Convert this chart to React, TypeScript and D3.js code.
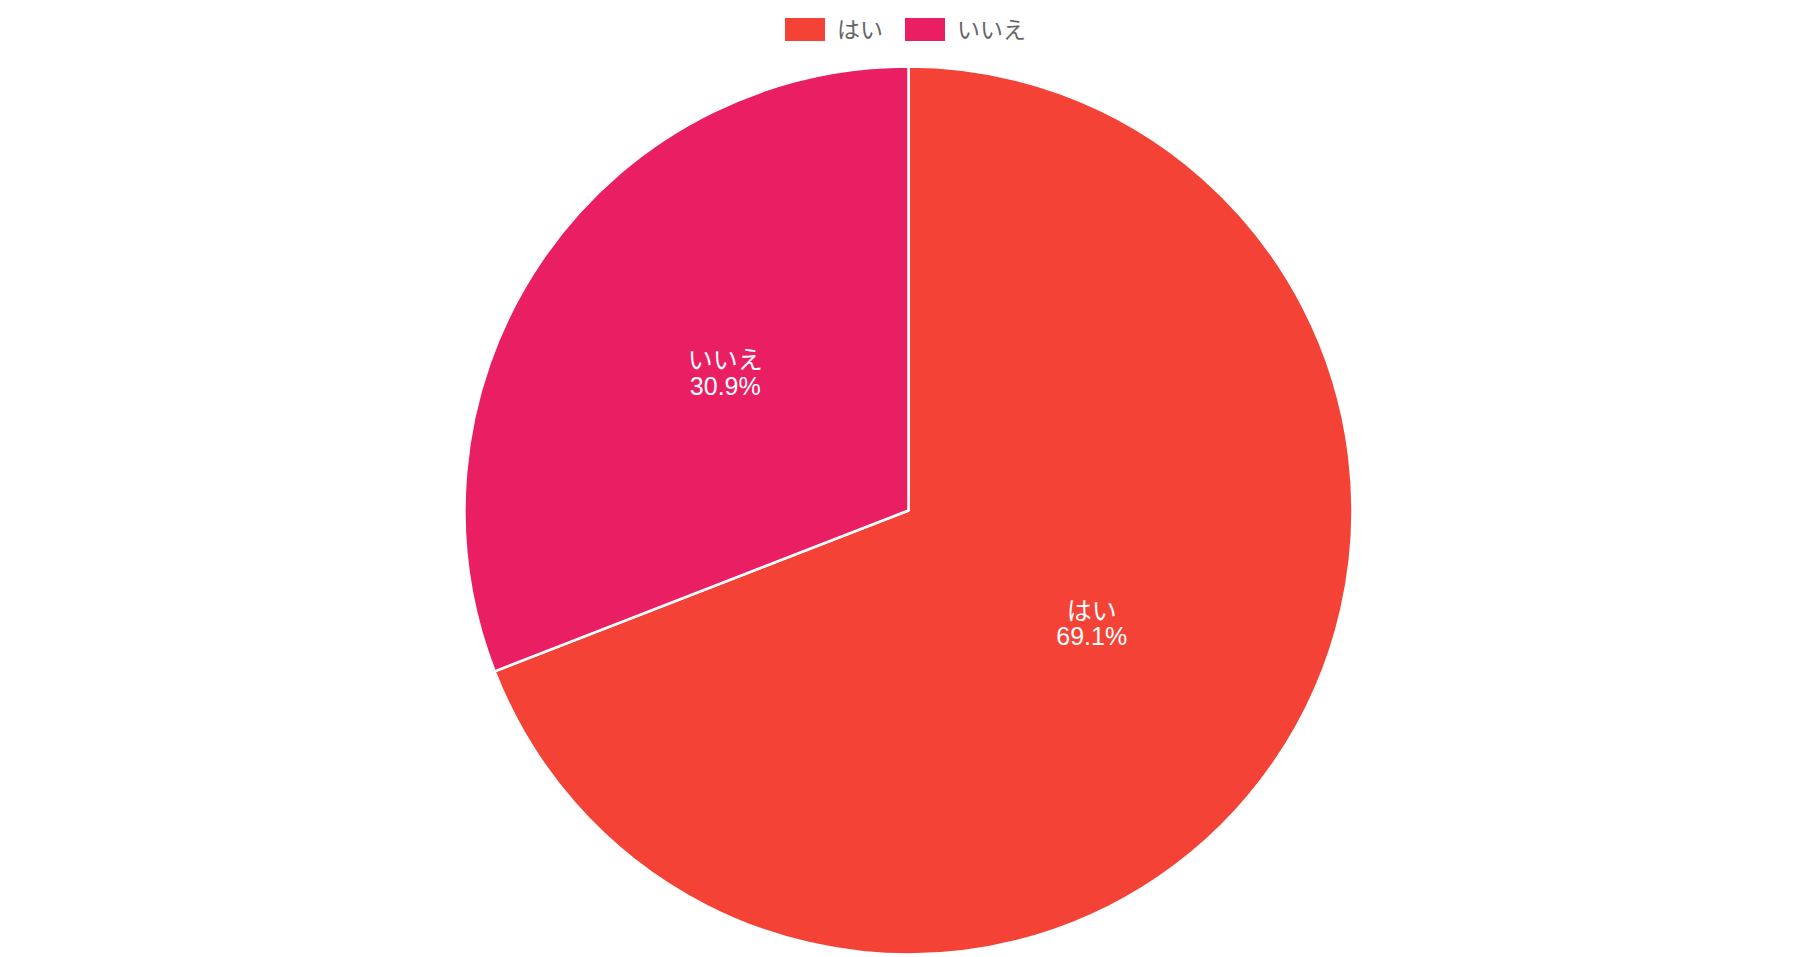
import React from "react";
import * as d3 from "d3";

const categories: string[] = ["はい", "いいえ"];
const values: number[] = [69.1, 30.9];
const colors: string[] = ["#F44336", "#E91E63"];

const W = 1816;
const H = 957;
const FONT = "'Helvetica Neue', Helvetica, 'Liberation Sans', Arial, 'Noto Sans CJK JP', sans-serif";

export default function App() {
  const cx = 908.5;
  const cy = 510.5;
  const r = 444;

  const pie = d3.pie<number>().sort(null).value((d) => d);
  const arcs = pie(values);
  const arcGen = d3.arc<d3.PieArcDatum<number>>().innerRadius(0).outerRadius(r);
  const labelArc = d3.arc<d3.PieArcDatum<number>>().innerRadius(r / 2).outerRadius(r / 2);
  const total = d3.sum(values);

  // legend layout: box 40 wide, gap to text, items centred
  const fontSize = 23;
  const boxW = 40;
  const boxH = 23;
  const itemWidths = [100, 124];
  const legendGap = 20;
  const legendTotal = d3.sum(itemWidths) + legendGap;
  let lx = W / 2 - legendTotal / 2 - 1;
  const legendItems = categories.map((c, i) => {
    const x = lx;
    lx += itemWidths[i] + legendGap;
    return { c, x, color: colors[i] };
  });

  return (
    <div style={{ position: "fixed", left: 0, top: 0, width: W, height: H, background: "#fff" }}>
      <svg width={W} height={H} style={{ display: "block" }}>
        <g>
          {legendItems.map((it) => (
            <g key={it.c}>
              <rect x={it.x} y={18} width={boxW} height={boxH} fill={it.color} />
              <text
                x={it.x + boxW + 12}
                y={29.5}
                dominantBaseline="central"
                fontFamily={FONT}
                fontSize={fontSize}
                fill="#666"
              >
                {it.c}
              </text>
            </g>
          ))}
        </g>
        <g transform={`translate(${cx},${cy})`}>
          {arcs.map((a, i) => (
            <path key={categories[i]} d={arcGen(a) ?? ""} fill={colors[i]} stroke="#fff" strokeWidth={2.5} strokeLinejoin="round" />
          ))}
          {arcs.map((a, i) => {
            const [x, y] = labelArc.centroid(a);
            const pct = ((values[i] / total) * 100).toFixed(1) + "%";
            return (
              <text
                key={"l" + categories[i]}
                x={x}
                y={y}
                textAnchor="middle"
                fontFamily={FONT}
                fontSize={25}
                fill="#fff"
              >
                <tspan x={x} dy={-16}>{categories[i]}</tspan>
                <tspan x={x} dy={25.5}>{pct}</tspan>
              </text>
            );
          })}
        </g>
      </svg>
    </div>
  );
}
